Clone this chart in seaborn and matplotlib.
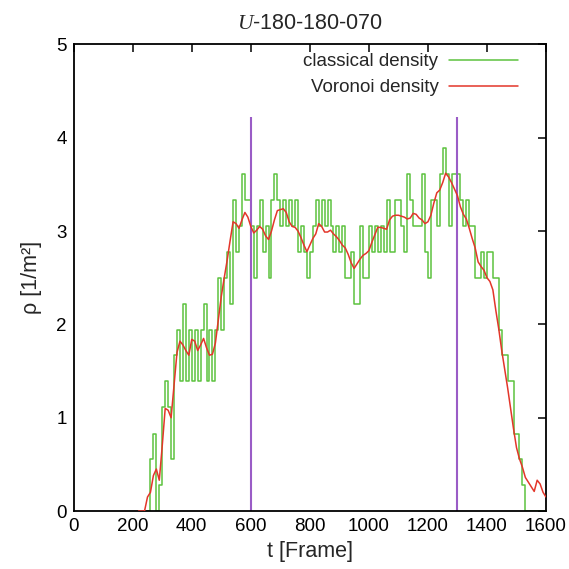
import matplotlib
matplotlib.use("Agg")
import matplotlib.pyplot as plt
import seaborn as sns
import numpy as np
import pandas as pd

# ---------------- data ----------------
title = "$U$-180-180-070"
x_label = "t [Frame]"
y_label = "ρ [1/m²]"
series_names = ["classical density", "Voronoi density"]
marker_frames = [600, 1300]
marker_top = 4.22

classical_start, classical_step = 250, 10
classical_density = [
    0.0,
    0.56, 0.83, 0.0, 0.28, 1.11, 1.39, 1.11, 0.56, 1.67,
    1.94, 1.39, 2.22, 1.39, 1.94, 1.39, 1.94, 1.39, 1.94, 2.22,
    1.39, 1.94, 1.39, 1.94, 2.5, 1.94, 2.5, 2.78, 2.22, 3.33,
    2.78, 3.06, 3.61, 3.33, 3.33, 3.06, 2.5, 3.06, 3.33, 2.78,
    3.06, 2.5, 3.33, 3.61, 3.33, 3.06, 3.33, 3.06, 3.33, 3.06,
    3.33, 2.78, 3.06, 2.78, 2.5, 2.78, 3.06, 3.33, 3.06, 3.33,
    3.06, 3.33, 3.06, 2.78, 3.06, 2.78, 3.06, 2.5, 2.5, 2.78,
    2.22, 2.22, 3.06, 2.5, 2.5, 3.06, 2.78, 3.06, 2.78, 3.06,
    2.78, 3.33, 2.78, 2.78, 3.33, 3.33, 3.06, 2.78, 3.61, 3.33,
    3.06, 3.06, 3.06, 3.61, 2.78, 2.5, 3.33, 3.33, 3.06, 3.61,
    3.89, 3.61, 3.06, 3.61, 3.61, 3.61, 3.33, 3.06, 3.33, 3.06,
    3.06, 2.5, 2.5, 2.78, 2.5, 2.78, 2.78, 2.5, 2.5, 1.94,
    1.67, 1.67, 1.39, 1.39, 0.83, 0.83, 0.56, 0.28, 0.0, 0.0,
    0.0, 0.0, 0.0, 0.0, 0.0, 0.0,
]

voronoi_start, voronoi_step = 220, 10
voronoi_density = [
    0.0, 0.0, 0.0, 0.15, 0.2, 0.38, 0.45, 0.33, 0.7, 1.1,
    1.08, 1.0, 1.35, 1.7, 1.82, 1.78, 1.72, 1.67, 1.84, 1.82,
    1.72, 1.78, 1.85, 1.75, 1.67, 1.68, 1.8, 2.05, 2.3, 2.5,
    2.69, 2.9, 3.1, 3.08, 3.03, 3.12, 3.2, 3.15, 3.05, 2.98,
    3.01, 3.05, 3.02, 2.95, 2.91, 3.0, 3.12, 3.22, 3.23, 3.24,
    3.2, 3.1, 3.05, 3.04, 3.0, 2.93, 2.85, 2.78, 2.85, 2.92,
    2.97, 3.08, 3.05, 2.99, 2.99, 3.01, 2.97, 2.94, 2.9, 2.85,
    2.82, 2.75, 2.66, 2.6, 2.65, 2.7, 2.74, 2.76, 2.79, 2.88,
    2.96, 3.04, 3.04, 3.03, 3.02, 3.12, 3.16, 3.17, 3.17, 3.16,
    3.15, 3.13, 3.14, 3.19, 3.18, 3.14, 3.12, 3.08, 3.1, 3.17,
    3.3, 3.41, 3.44, 3.52, 3.62, 3.58, 3.52, 3.45, 3.38, 3.26,
    3.18, 3.13, 3.03, 2.92, 2.82, 2.67, 2.62, 2.58, 2.5, 2.46,
    2.37, 2.15, 1.95, 1.72, 1.52, 1.32, 1.1, 0.88, 0.68, 0.56,
    0.47, 0.36, 0.31, 0.26, 0.21, 0.33, 0.29, 0.2, 0.15,
]

x_ticks = [0, 200, 400, 600, 800, 1000, 1200, 1400, 1600]
y_ticks = [0, 1, 2, 3, 4, 5]

# ---------------- style ----------------
sns.set_theme(style="white")
plt.rcParams["font.family"] = ["Liberation Sans", "DejaVu Sans"]
plt.rcParams["mathtext.fontset"] = "custom"
plt.rcParams["mathtext.it"] = "Liberation Serif:italic"
plt.rcParams["mathtext.rm"] = "Liberation Sans"

green = "#5cc23e"
red = "#e3362a"
purple = "#9a5cc6"
fs_tick = 13.5
fs_label = 15.5

df_c = pd.DataFrame({
    "t": classical_start + classical_step * np.arange(len(classical_density)),
    "rho": classical_density,
})
df_v = pd.DataFrame({
    "t": voronoi_start + voronoi_step * np.arange(len(voronoi_density)),
    "rho": voronoi_density,
})

fig = plt.figure(figsize=(5.69, 5.69), dpi=100)
ax = fig.add_axes([0.1295, 0.1019, 0.8301, 0.8199])

sns.lineplot(data=df_c, x="t", y="rho", ax=ax, color=green, lw=1.1,
             drawstyle="steps-post", label=series_names[0], estimator=None)
ax.vlines(marker_frames, 0, marker_top, color=purple, lw=1.5, zorder=2)
sns.lineplot(data=df_v, x="t", y="rho", ax=ax, color=red, lw=1.1,
             label=series_names[1], estimator=None, zorder=3)

ax.set_xlim(0, 1600)
ax.set_ylim(0, 5)
ax.set_xticks(x_ticks)
ax.set_yticks(y_ticks)
ax.tick_params(direction="in", length=6, width=1.1, top=True, right=True,
               labelsize=fs_tick, pad=5, colors="black")
for s in ax.spines.values():
    s.set_visible(True)
    s.set_linewidth(1.3)
    s.set_color("black")

ax.set_title(title, fontsize=fs_label, pad=11)
ax.set_xlabel(x_label, fontsize=fs_label, labelpad=4)
ax.set_ylabel(y_label, fontsize=fs_label, labelpad=10)

leg = ax.legend(loc="upper right", bbox_to_anchor=(0.941, 0.981), frameon=False,
                markerfirst=False, fontsize=fs_tick, handlelength=3.7,
                handletextpad=0.55, labelspacing=0.46, borderpad=0,
                borderaxespad=0)

fig.savefig("out.png", dpi=100)
